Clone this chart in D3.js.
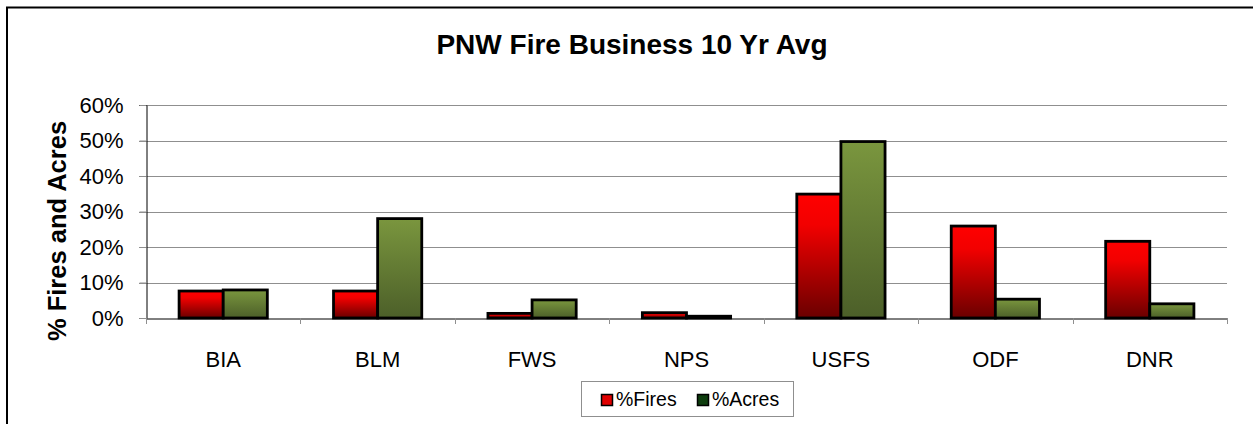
<!DOCTYPE html>
<html>
<head>
<meta charset="utf-8">
<script src="https://cdn.jsdelivr.net/npm/d3@7"></script>
<style>
  html, body { margin: 0; padding: 0; background: #fff; }
  svg { display: block; font-family: Arial, "Liberation Sans", sans-serif; }
</style>
</head>
<body>
<svg id="chart" width="1253" height="424"></svg>
<script>
const categories = ["BIA", "BLM", "FWS", "NPS", "USFS", "ODF", "DNR"];
const seriesNames = ["%Fires", "%Acres"];
const firesPct = [7.6, 7.6, 1.3, 1.5, 34.9, 25.9, 21.6];
const acresPct = [7.9, 28.0, 5.1, 0.5, 49.7, 5.3, 4.0];
const yTicks = [0, 10, 20, 30, 40, 50, 60];
const titleText = "PNW Fire Business 10 Yr Avg";
const yLabel = "% Fires and Acres";

const svg = d3.select("#chart");
const plot = { left: 146, right: 1227, top: 105, bottom: 318 };

// gradients
const defs = svg.append("defs");
const gRed = defs.append("linearGradient").attr("id", "gRed").attr("x1", 0).attr("y1", 0).attr("x2", 0).attr("y2", 1);
gRed.append("stop").attr("offset", "0%").attr("stop-color", "#ff0000");
gRed.append("stop").attr("offset", "25%").attr("stop-color", "#f20000");
gRed.append("stop").attr("offset", "100%").attr("stop-color", "#6a0000");
const gGreen = defs.append("linearGradient").attr("id", "gGreen").attr("x1", 0).attr("y1", 0).attr("x2", 0).attr("y2", 1);
gGreen.append("stop").attr("offset", "0%").attr("stop-color", "#7a963e");
gGreen.append("stop").attr("offset", "100%").attr("stop-color", "#4c5f29");

// outer frame (extends beyond right/bottom edges)
svg.append("rect").attr("x", 7).attr("y", 7.5).attr("width", 1300).attr("height", 500)
  .attr("fill", "none").attr("stroke", "#000").attr("stroke-width", 2);

const x = d3.scaleBand().domain(categories).range([plot.left, plot.right]).paddingInner(0).paddingOuter(0);
const bw = x.bandwidth();
const xs = d3.scaleBand().domain(seriesNames).range([bw * 0.75 / 3.5, bw - bw * 0.75 / 3.5]);
const y = d3.scaleLinear().domain([0, 60]).range([plot.bottom, plot.top]);

// gridlines
svg.append("g").selectAll("line").data(yTicks.filter(d => d > 0)).join("line")
  .attr("x1", plot.left - 7).attr("x2", plot.right)
  .attr("y1", d => Math.round(y(d)) + 0.5).attr("y2", d => Math.round(y(d)) + 0.5)
  .attr("stroke", "#8f8f8f").attr("stroke-width", 1);

// y axis
const yAxis = svg.append("g").attr("transform", `translate(${plot.left + 0.5},0)`)
  .call(d3.axisLeft(y).tickValues(yTicks).tickFormat(d => d + "%").tickSize(7).tickPadding(16));
yAxis.select(".domain").attr("stroke", "#000");
yAxis.selectAll(".tick line").attr("stroke", "#8f8f8f");
yAxis.selectAll(".tick text").attr("font-size", 22).attr("fill", "#000")
  .attr("font-family", "Arial, 'Liberation Sans', sans-serif");

// bars
const data = categories.map((c, i) => ({ cat: c, vals: [firesPct[i], acresPct[i]] }));
const groups = svg.append("g").selectAll("g").data(data).join("g")
  .attr("transform", d => `translate(${x(d.cat)},0)`);
groups.selectAll("rect").data(d => d.vals.map((v, j) => ({ s: seriesNames[j], v }))).join("rect")
  .attr("x", d => xs(d.s))
  .attr("width", xs.bandwidth())
  .attr("y", d => y(d.v))
  .attr("height", d => y(0) - y(d.v))
  .attr("fill", d => d.s === "%Fires" ? "url(#gRed)" : "url(#gGreen)")
  .attr("stroke", "#000").attr("stroke-width", 2.8);

// x axis
const xAxis = svg.append("g").attr("transform", `translate(0,${plot.bottom + 0.5})`)
  .call(d3.axisBottom(x).tickSize(0).tickPadding(33));
xAxis.select(".domain").attr("stroke", "#000");
xAxis.selectAll(".tick text").attr("font-size", 22).attr("fill", "#000")
  .attr("font-family", "Arial, 'Liberation Sans', sans-serif");
// category boundary ticks
const bounds = categories.map(c => x(c)).concat([plot.right]);
svg.append("g").selectAll("line").data(bounds).join("line")
  .attr("x1", d => Math.round(d) + 0.5).attr("x2", d => Math.round(d) + 0.5)
  .attr("y1", plot.bottom).attr("y2", plot.bottom + 6)
  .attr("stroke", "#8f8f8f");

// title
svg.append("text").attr("x", 632).attr("y", 54).attr("text-anchor", "middle")
  .attr("font-size", 28).attr("font-weight", "bold").text(titleText);

// y label
svg.append("text").attr("transform", `translate(66,${231}) rotate(-90)`)
  .attr("text-anchor", "middle").attr("font-size", 25.5).attr("font-weight", "bold").text(yLabel);

// legend
const lg = svg.append("g");
lg.append("rect").attr("x", 581.5).attr("y", 381.5).attr("width", 212).attr("height", 35)
  .attr("fill", "#fff").attr("stroke", "#8f8f8f");
const legItems = [
  { name: seriesNames[0], color: "#e00000", sx: 601, tx: 616 },
  { name: seriesNames[1], color: "#0d3d0d", sx: 697, tx: 712 }
];
legItems.forEach(it => {
  lg.append("rect").attr("x", it.sx + 0.5).attr("y", 394.5).attr("width", 11).attr("height", 11)
    .attr("fill", it.color).attr("stroke", "#000").attr("stroke-width", 1.5);
  lg.append("text").attr("x", it.tx).attr("y", 406).attr("font-size", 19.5).text(it.name);
});
</script>
</body>
</html>
